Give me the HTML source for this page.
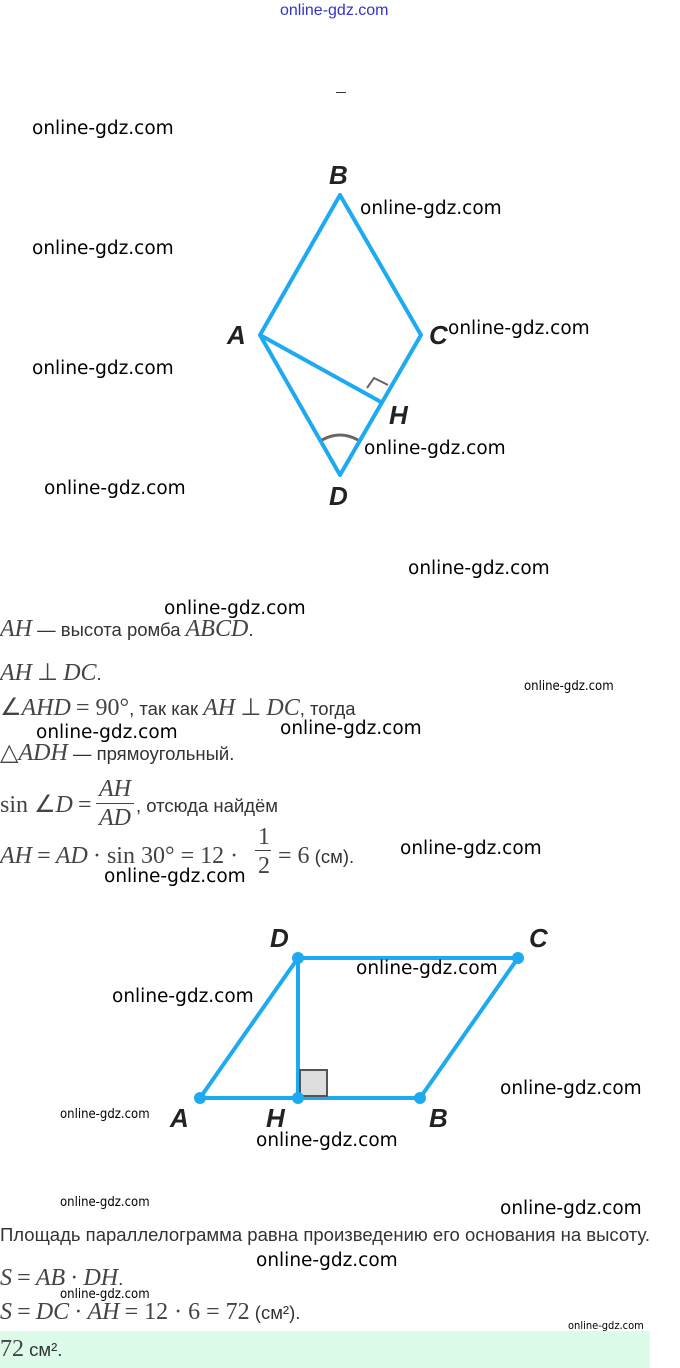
<!DOCTYPE html>
<html><head><meta charset="utf-8"><style>
body{margin:0;width:680px;height:1368px;position:relative;background:#fff;overflow:hidden;font-family:"Liberation Sans",sans-serif}
.w{position:absolute;font-family:"DejaVu Sans","Liberation Sans",sans-serif;font-size:18.5px;color:#000;white-space:nowrap;line-height:1}
.s{position:absolute;font-family:"DejaVu Sans Condensed","Liberation Sans Narrow",sans-serif;font-size:13px;color:#000;white-space:nowrap;line-height:1}
.t{position:absolute;font-size:18.5px;color:#333;white-space:nowrap;line-height:1}
.m{font-family:"Liberation Serif",serif;font-style:italic;font-size:24px;color:#444}
.r{font-family:"Liberation Serif",serif;font-size:24px;color:#444}
.L{position:absolute;font-family:"Liberation Sans",sans-serif;font-style:italic;font-weight:bold;font-size:26px;color:#222;line-height:1}
</style></head><body>
<div style="position:absolute;left:280px;top:2px;font-size:16px;color:#33c;">online-gdz.com</div>
<div style="position:absolute;left:336px;top:92px;width:10px;height:1px;background:#333"></div>

<svg style="position:absolute;left:0;top:0" width="680" height="1368">
<g stroke="#1eaaf0" stroke-width="4" fill="none" stroke-linejoin="round">
<polygon points="340,195 421,335 340,475 260,335"/>
<line x1="260" y1="335" x2="381" y2="402"/>
<polygon points="200,1098 298,958 518,958 420,1098"/>
<line x1="298" y1="958" x2="298" y2="1098"/>
</g>
<polyline points="367,388 374,378 388,385" stroke="#666" stroke-width="2" fill="none"/>
<path d="M322,440 Q340,430 358,440" stroke="#666" stroke-width="3" fill="none"/>
<rect x="300" y="1070" width="27" height="26" fill="#ddd" stroke="#555" stroke-width="2"/>
<g fill="#1eaaf0"><circle cx="200" cy="1098" r="6"/><circle cx="298" cy="958" r="6"/><circle cx="518" cy="958" r="6"/><circle cx="420" cy="1098" r="6"/><circle cx="298" cy="1098" r="6"/></g>
</svg>

<div class="L" style="left:329px;top:162px">B</div>
<div class="L" style="left:227px;top:322px">A</div>
<div class="L" style="left:429px;top:322px">C</div>
<div class="L" style="left:389px;top:402px">H</div>
<div class="L" style="left:329px;top:483px">D</div>
<div class="L" style="left:270px;top:925px">D</div>
<div class="L" style="left:529px;top:925px">C</div>
<div class="L" style="left:170px;top:1105px">A</div>
<div class="L" style="left:266px;top:1105px">H</div>
<div class="L" style="left:429px;top:1105px">B</div>

<div class="t" style="left:0;top:617px"><span class="m">AH</span> — высота ромба <span class="m">ABCD</span>.</div>
<div class="t" style="left:0;top:661px"><span class="m">AH</span> <span class="r">⊥</span> <span class="m">DC</span>.</div>
<div class="t" style="left:0;top:696px"><span class="r">∠</span><span class="m">AHD</span> <span class="r">= 90°</span>, так как <span class="m">AH</span> <span class="r">⊥</span> <span class="m">DC</span>, тогда</div>
<div class="t" style="left:0;top:741px"><span class="r">△</span><span class="m">ADH</span> — прямоугольный.</div>
<div class="t" style="left:0;top:793px"><span class="r">sin ∠</span><span class="m">D</span> <span class="r">=</span></div>
<div class="t" style="left:94px;top:777px;text-align:center;width:42px"><span class="m">AH</span></div>
<div style="position:absolute;left:96px;top:803px;width:38px;height:1px;background:#444"></div>
<div class="t" style="left:94px;top:806px;text-align:center;width:42px"><span class="m">AD</span></div>
<div class="t" style="left:136px;top:797px">, отсюда найдём</div>
<div class="t" style="left:0;top:844px"><span class="m">AH</span> <span class="r">=</span> <span class="m">AD</span> <span class="r">· sin 30° = 12 ·</span></div>
<div class="t" style="left:258px;top:825px"><span class="r">1</span></div>
<div style="position:absolute;left:255px;top:850px;width:16px;height:1px;background:#444"></div>
<div class="t" style="left:258px;top:854px"><span class="r">2</span></div>
<div class="t" style="left:278px;top:844px"><span class="r">= 6</span> (см).</div>

<div class="t" style="left:0;top:1226px">Площадь параллелограмма равна произведению его основания на высоту.</div>
<div class="t" style="left:0;top:1266px"><span class="m">S</span> <span class="r">=</span> <span class="m">AB</span> <span class="r">·</span> <span class="m">DH</span>.</div>
<div class="t" style="left:0;top:1300px"><span class="m">S</span> <span class="r">=</span> <span class="m">DC</span> <span class="r">·</span> <span class="m">AH</span> <span class="r">= 12 · 6 = 72</span> (см²).</div>
<div style="position:absolute;left:0;top:1331px;width:650px;height:37px;background:#dcfce9"></div>
<div class="t" style="left:0;top:1337px"><span class="r">72</span> см².</div>

<div class="w" style="left:32px;top:120px">online-gdz.com</div>
<div class="w" style="left:360px;top:200px">online-gdz.com</div>
<div class="w" style="left:32px;top:240px">online-gdz.com</div>
<div class="w" style="left:448px;top:320px">online-gdz.com</div>
<div class="w" style="left:32px;top:360px">online-gdz.com</div>
<div class="w" style="left:364px;top:440px">online-gdz.com</div>
<div class="w" style="left:44px;top:480px">online-gdz.com</div>
<div class="w" style="left:408px;top:560px">online-gdz.com</div>
<div class="w" style="left:164px;top:600px">online-gdz.com</div>
<div class="s" style="left:524px;top:680px">online-gdz.com</div>
<div class="w" style="left:280px;top:720px">online-gdz.com</div>
<div class="w" style="left:36px;top:724px">online-gdz.com</div>
<div class="w" style="left:400px;top:840px">online-gdz.com</div>
<div class="w" style="left:104px;top:868px">online-gdz.com</div>
<div class="w" style="left:356px;top:960px">online-gdz.com</div>
<div class="w" style="left:112px;top:988px">online-gdz.com</div>
<div class="w" style="left:500px;top:1080px">online-gdz.com</div>
<div class="s" style="left:60px;top:1108px">online-gdz.com</div>
<div class="w" style="left:256px;top:1132px">online-gdz.com</div>
<div class="s" style="left:60px;top:1196px">online-gdz.com</div>
<div class="w" style="left:500px;top:1200px">online-gdz.com</div>
<div class="w" style="left:256px;top:1252px">online-gdz.com</div>
<div class="s" style="left:60px;top:1288px">online-gdz.com</div>
<div class="s" style="left:568px;top:1320px;font-size:11px">online-gdz.com</div>
</body></html>
